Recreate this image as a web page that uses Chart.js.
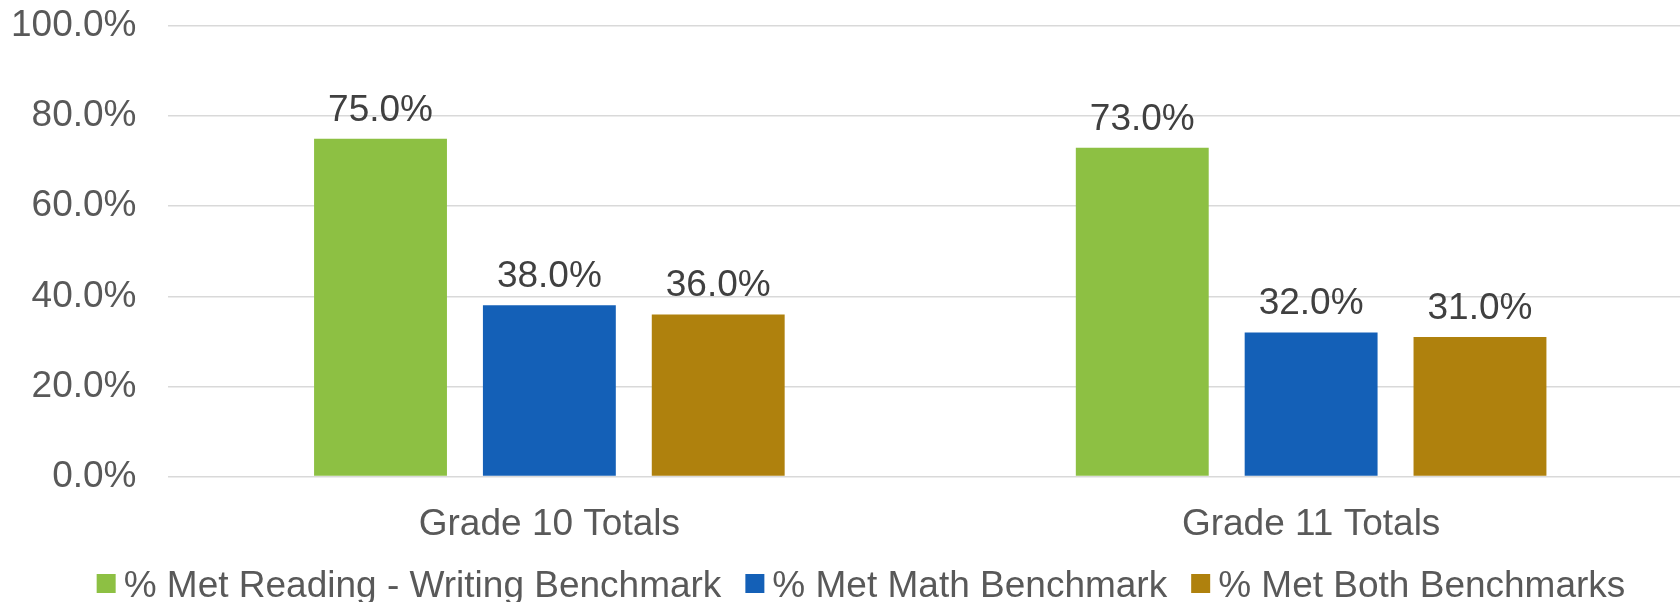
<!DOCTYPE html>
<html>
<head>
<meta charset="utf-8">
<script src="https://cdn.jsdelivr.net/npm/chart.js@4.4.1/dist/chart.umd.min.js"></script>
<style>
  html, body { margin: 0; padding: 0; background: #ffffff; overflow: hidden; }
  #wrap { width: 1692px; height: 602px; position: relative; }
</style>
</head>
<body>
<div id="wrap"><canvas id="c"></canvas></div>
<script>
const categories = ['Grade 10 Totals', 'Grade 11 Totals'];
const seriesNames = ['% Met Reading - Writing Benchmark', '% Met Math Benchmark', '% Met Both Benchmarks'];
const readingWriting = [75.0, 73.0];
const math = [38.0, 32.0];
const both = [36.0, 31.0];
const seriesColors = ['#8DC043', '#1460B7', '#AF810D'];
const yTickValues = [0, 20, 40, 60, 80, 100];

const FONT = '"Liberation Sans", Arial, sans-serif';
const FS = 37;

const dataLabels = {
  id: 'dataLabels',
  afterDatasetsDraw(chart) {
    const ctx = chart.ctx;
    ctx.save();
    ctx.font = FS + 'px ' + FONT;
    ctx.fillStyle = '#404040';
    ctx.textAlign = 'center';
    ctx.textBaseline = 'alphabetic';
    chart.data.datasets.forEach((ds, i) => {
      chart.getDatasetMeta(i).data.forEach((bar, j) => {
        ctx.fillText(ds.data[j].toFixed(1) + '%', bar.x, bar.y - 18);
      });
    });
    ctx.restore();
  }
};

const bottomLegend = {
  id: 'bottomLegend',
  afterDraw(chart) {
    const ctx = chart.ctx;
    ctx.save();
    ctx.font = FS + 'px ' + FONT;
    const box = 19, gapText = 8, gapItem = 24;
    const items = chart.data.datasets.map(ds => ({ label: ds.label, color: ds.backgroundColor, w: ctx.measureText(ds.label).width }));
    let total = 0;
    items.forEach((it, i) => { total += box + gapText + it.w + (i < items.length - 1 ? gapItem : 0); });
    let x = chart.width / 2 + 15 - total / 2;
    const cy = 583.5;
    items.forEach(it => {
      ctx.fillStyle = it.color;
      ctx.fillRect(x, cy - box / 2, box, box);
      x += box + gapText;
      ctx.fillStyle = '#595959';
      ctx.textAlign = 'left';
      ctx.textBaseline = 'alphabetic';
      ctx.fillText(it.label, x, 596.5);
      x += it.w + gapItem;
    });
    ctx.restore();
  }
};

new Chart(document.getElementById('c'), {
  type: 'bar',
  data: {
    labels: categories,
    datasets: [
      { label: seriesNames[0], data: readingWriting, backgroundColor: seriesColors[0] },
      { label: seriesNames[1], data: math, backgroundColor: seriesColors[1] },
      { label: seriesNames[2], data: both, backgroundColor: seriesColors[2] }
    ]
  },
  options: {
    responsive: true,
    maintainAspectRatio: false,
    animation: false,
    datasets: { bar: { categoryPercentage: 0.665, barPercentage: 0.787 } },
    layout: { padding: { left: 11, top: 26, right: 0, bottom: 55 } },
    plugins: { legend: { display: false }, tooltip: { enabled: false } },
    scales: {
      x: {
        grid: { display: true, drawOnChartArea: false, drawTicks: true, tickLength: 26, tickColor: 'rgba(0,0,0,0)' },
        border: { display: false },
        ticks: { font: { family: FONT, size: FS }, color: '#595959', padding: 0 }
      },
      y: {
        min: 0, max: 100,
        afterBuildTicks(scale) { scale.ticks = yTickValues.map(v => ({ value: v })); },
        grid: { color: '#d9d9d9', lineWidth: 1.5, drawTicks: true, tickLength: 32, tickColor: 'rgba(0,0,0,0)' },
        border: { display: false },
        ticks: {
          font: { family: FONT, size: FS }, color: '#595959', padding: 0,
          callback: v => v.toFixed(1) + '%'
        }
      }
    }
  },
  plugins: [dataLabels, bottomLegend]
});
</script>
</body>
</html>
